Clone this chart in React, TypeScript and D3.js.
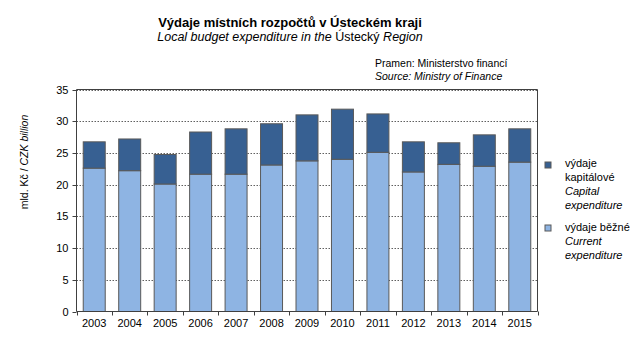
import React from "react";
import * as d3 from "d3";

const years = ["2003","2004","2005","2006","2007","2008","2009","2010","2011","2012","2013","2014","2015"];
const current = [22.6,22.2,20.1,21.65,21.65,23.1,23.75,24.0,25.1,22.0,23.2,22.9,23.55];
const total = [26.75,27.2,24.75,28.3,28.8,29.6,31.0,31.9,31.15,26.75,26.6,27.85,28.8];
const capital = total.map((t, i) => +(t - current[i]).toFixed(2));
const yTicks = [0,5,10,15,20,25,30,35];

const W = 641, H = 353;
const left = 76.5, right = 537.5, top = 89.5, bottom = 311.5;
const font = "'Liberation Sans', Arial, sans-serif";

export default function App() {
  const x = d3.scaleBand().domain(years).range([left, right]).paddingInner(0.38).paddingOuter(0.19);
  const y = d3.scaleLinear().domain([0, 35]).range([bottom, top]);
  const step = x.step();
  const bounds = d3.range(years.length + 1).map(i => left + i * (right - left) / years.length);
  return (
    <div style={{ position: "absolute", left: 0, top: 0 }}>
      <svg width={W} height={H} style={{ display: "block", fontFamily: font }}>
        <rect width={W} height={H} fill="#fff" />
        <text x={290} y={27} textAnchor="middle" fontSize={13} fontWeight="bold" fill="#000">Výdaje místních rozpočtů v Ústeckém  kraji</text>
        <text x={290} y={41} textAnchor="middle" fontSize={12.5} fill="#000">
          <tspan fontStyle="italic">Local budget expenditure in the </tspan>
          <tspan>Ústecký </tspan>
          <tspan fontStyle="italic">Region</tspan>
        </text>
        <text x={375} y={67} fontSize={10.5} fill="#000">Pramen: Ministerstvo financí</text>
        <text x={375} y={80} fontSize={10.5} fontStyle="italic" fill="#000">Source: Ministry of Finance</text>

        {yTicks.filter(t => t > 0).map(t => (
          <line key={"g" + t} x1={left} x2={right} y1={Math.round(y(t)) + 0.5} y2={Math.round(y(t)) + 0.5}
            stroke="#606060" strokeWidth={1} strokeDasharray="1.5,1.5" />
        ))}
        <line x1={left} x2={right} y1={top} y2={top} stroke="#404040" />
        <line x1={right} x2={right} y1={top} y2={bottom} stroke="#404040" />

        {years.map((yr, i) => (
          <g key={yr}>
            <rect x={x(yr)} y={y(current[i])} width={x.bandwidth()} height={y(0) - y(current[i])}
              fill="#8EB4E3" stroke="#595959" strokeWidth={1} />
            <rect x={x(yr)} y={y(total[i])} width={x.bandwidth()} height={y(current[i]) - y(total[i])}
              fill="#376092" stroke="#595959" strokeWidth={1} />
          </g>
        ))}

        <line x1={left} x2={left} y1={top} y2={bottom} stroke="#404040" />
        <line x1={left} x2={right} y1={bottom} y2={bottom} stroke="#404040" />
        {yTicks.map(t => (
          <g key={"t" + t}>
            <line x1={left - 4} x2={left} y1={Math.round(y(t)) + 0.5} y2={Math.round(y(t)) + 0.5} stroke="#404040" />
            <text x={left - 8} y={y(t) + 4} textAnchor="end" fontSize={11} fill="#000">{t}</text>
          </g>
        ))}
        {bounds.map((b, i) => (
          <line key={"b" + i} x1={Math.round(b) + 0.5} x2={Math.round(b) + 0.5} y1={bottom} y2={bottom + 4} stroke="#404040" />
        ))}
        {years.map(yr => (
          <text key={"l" + yr} x={(x(yr) as number) + x.bandwidth() / 2} y={327} textAnchor="middle" fontSize={11} fill="#000">{yr}</text>
        ))}

        <text transform="translate(28,162) rotate(-90)" textAnchor="middle" fontSize={10.5} fill="#000">
          <tspan>mld. Kč / </tspan>
          <tspan fontStyle="italic">CZK billion</tspan>
        </text>

        <rect x={545} y={162} width={6} height={6} fill="#376092" stroke="#595959" />
        <text x={565} y={167} fontSize={11} fill="#000">výdaje</text>
        <text x={565} y={181} fontSize={11} fill="#000">kapitálové</text>
        <text x={565} y={195} fontSize={11} fontStyle="italic" fill="#000">Capital</text>
        <text x={565} y={209} fontSize={11} fontStyle="italic" fill="#000">expenditure</text>

        <rect x={545} y={225} width={6} height={6} fill="#8EB4E3" stroke="#595959" />
        <text x={565} y={231} fontSize={11} fill="#000">výdaje běžné</text>
        <text x={565} y={245} fontSize={11} fontStyle="italic" fill="#000">Current</text>
        <text x={565} y={259} fontSize={11} fontStyle="italic" fill="#000">expenditure</text>
      </svg>
    </div>
  );
}
